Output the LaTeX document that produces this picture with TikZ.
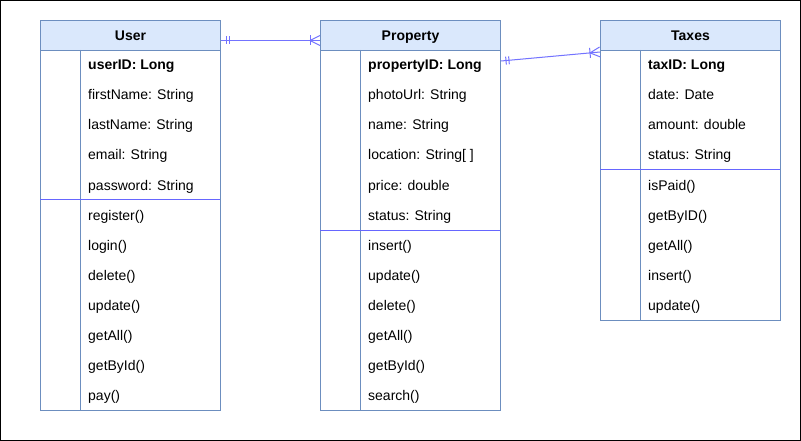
\documentclass[tikz,border=0pt]{standalone}
\usepackage{fontspec}
\setmainfont{Liberation Sans}
\usetikzlibrary{calc}
\definecolor{hdrfill}{HTML}{DAE8FC}
\definecolor{boxline}{HTML}{6C8EBF}
\definecolor{sepline}{HTML}{6666FF}
\definecolor{relline}{HTML}{7373FF}
\tikzset{
  hdr/.style={draw=boxline, fill=hdrfill, line width=1pt, minimum width=180pt, minimum height=30pt,
    anchor=north west, inner sep=0pt, text height=10pt, text depth=0pt, font=\fontsize{14}{16}\selectfont\bfseries},
  bodybox/.style={draw=boxline, line width=1pt, minimum width=180pt, anchor=north west, inner sep=0pt},
  row/.style={anchor=west, inner sep=0pt, text height=10pt, text depth=0pt, font=\fontsize{14}{16}\selectfont},
  keyrow/.style={row, font=\fontsize{14}{16}\selectfont\bfseries},
  sep/.style={draw=sepline, line width=1pt},
  inner/.style={draw=boxline, line width=1pt},
  rel/.style={draw=relline, line width=1pt},
}
\begin{document}
\begin{tikzpicture}[x=1pt,y=-1pt]
\useasboundingbox (0,0) rectangle (801,441);
\draw[black, line width=1pt] (0.5,0.5) rectangle (800.5,440.5);

% ---------- User ----------
\node[bodybox, minimum height=360pt] (ubody) at (40,50) {};
\node[hdr] (user) at (40,20) {User};
\draw[inner] (80,50) -- (80,410);
\draw[sep] (40,200) -- (220,200);
\node[keyrow] (u0) at (88,65) {userID: Long};
\foreach \t [count=\i] in {{firstName: String},{lastName: String},{email: String},{password: String},
  {register()},{login()},{delete()},{update()},{getAll()},{getById()},{pay()}}
  \node[row] (u\i) at (88,{65+30*\i}) {\t};

% ---------- Property ----------
\node[bodybox, minimum height=360pt] (pbody) at (320,50) {};
\node[hdr] (prop) at (320,20) {Property};
\draw[inner] (360,50) -- (360,410);
\draw[sep] (320,230) -- (500,230);
\node[keyrow] (p0) at (368,65) {propertyID: Long};
\foreach \t [count=\i] in {{photoUrl: String},{name: String},{location: String[ ]},{price: double},{status: String},
  {insert()},{update()},{delete()},{getAll()},{getById()},{search()}}
  \node[row] (p\i) at (368,{65+30*\i}) {\t};

% ---------- Taxes ----------
\node[bodybox, minimum height=270pt] (tbody) at (600,50) {};
\node[hdr] (tax) at (600,20) {Taxes};
\draw[inner] (640,50) -- (640,320);
\draw[sep] (600,170) -- (780,170);
\node[keyrow] (t0) at (648,65) {taxID: Long};
\foreach \t [count=\i] in {{date: Date},{amount: double},{status: String},
  {isPaid()},{getByID()},{getAll()},{insert()},{update()}}
  \node[row] (t\i) at (648,{65+30*\i}) {\t};

% ---------- Relations ----------
\coordinate (a1) at ($(user.east)+(0,5)$);
\coordinate (b1) at ($(prop.west)+(0,5)$);
\coordinate (a2) at ($(pbody.north east)+(0,11)$);
\coordinate (b2) at ($(tbody.north west)+(0,2)$);
\foreach \a/\b in {a1/b1,a2/b2}{
  \draw[rel] (\a) -- (\b);
  % mandatory one at a
  \draw[rel] ($(\a)!5pt!(\b)$) coordinate (m1) ($(m1)!4pt!90:(\b)$) -- ($(m1)!4pt!-90:(\b)$);
  \draw[rel] ($(\a)!8pt!(\b)$) coordinate (m2) ($(m2)!4pt!90:(\b)$) -- ($(m2)!4pt!-90:(\b)$);
  % one-to-many at b
  \coordinate (tip) at ($(\b)!10pt!(\a)$);
  \draw[rel] ($(\b)!5pt!90:(\a)$) -- (tip) -- ($(\b)!5pt!-90:(\a)$);
  \draw[rel] ($(tip)!5pt!90:(\b)$) -- ($(tip)!5pt!-90:(\b)$);
}
\end{tikzpicture}
\end{document}
